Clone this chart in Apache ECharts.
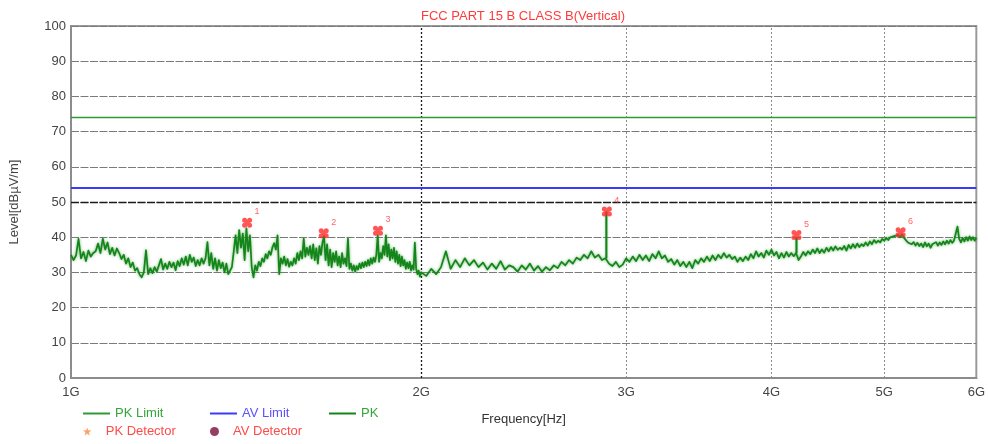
<!DOCTYPE html>
<html>
<head>
<meta charset="utf-8">
<title>FCC PART 15 B CLASS B(Vertical)</title>
<script src="https://cdn.jsdelivr.net/npm/echarts@6/dist/echarts.min.js"></script>
<style>
  html, body { margin: 0; padding: 0; background: #fff; }
  #chart { width: 988px; height: 444px; }
</style>
</head>
<body>
<div id="chart"></div>
<script>
// ---- data (frequency in MHz, level in dBuV/m) ----
const freqTicks = [1000, 2000, 3000, 4000, 5000, 6000]
const pkLimit = 74
const avLimit = 54

// PK trace, 1000-1995 MHz, 5 MHz sweep step
const sweepLowStart = 1000
const sweepLowStep = 5
const pkLevelLow = [
  35.0, 33.5, 34.8, 39.5, 34.0, 35.8, 33.2, 36.2, 34.5, 35.5,
  36.0, 38.2, 35.5, 39.6, 36.5, 38.5, 35.2, 37.0, 34.8, 36.8,
  35.5, 33.8, 35.0, 32.5, 34.0, 31.5, 32.8, 30.5, 31.2, 29.5,
  28.6, 30.0, 36.3, 29.5, 31.2, 29.8, 31.5, 30.2, 32.0, 33.8,
  30.8, 32.5, 31.0, 33.0, 31.5, 32.8, 30.6, 33.2, 31.8, 34.0,
  32.2, 34.5, 32.0, 35.0, 33.0, 34.2, 31.8, 33.5, 32.0, 34.0,
  32.5, 34.0, 38.6, 32.0, 35.5, 31.0, 34.0, 30.5, 33.5, 31.2,
  32.8, 30.0, 32.5, 29.5, 29.0, 31.5, 36.0, 40.5, 35.5, 42.0,
  37.0, 41.0, 33.5, 42.5, 36.0, 40.5, 31.5, 28.6, 32.0, 30.5,
  33.0, 31.8, 34.0, 33.0, 35.2, 34.0, 36.0, 35.0, 37.2, 38.3,
  36.5, 40.5, 29.5, 34.0, 32.5, 34.5, 32.0, 33.8, 31.6, 33.0,
  32.0, 34.0, 32.5, 35.5, 33.5, 36.0, 34.0, 39.6, 34.5, 37.0,
  35.0, 37.5, 34.0, 38.0, 33.5, 36.8, 32.5, 37.5, 35.0, 38.5,
  40.3, 33.5, 38.0, 32.0, 36.5, 31.5, 35.5, 33.0, 36.0, 32.0,
  34.5, 31.5, 35.5, 32.5, 34.0, 31.8, 39.6, 31.0, 32.5, 30.5,
  32.0, 30.2, 31.8, 30.8, 32.5, 31.2, 32.8, 31.5, 33.0, 31.8,
  33.5, 32.0, 34.0, 32.5, 34.2, 33.0, 35.0, 40.6, 33.0, 35.5,
  34.0, 37.5, 35.0, 40.5, 34.5, 38.0, 33.5, 36.5, 34.0, 37.0,
  33.0, 36.0, 32.5, 35.0, 31.8, 34.5, 32.0, 33.5, 31.0, 32.8,
  31.2, 33.0, 30.5, 32.0, 30.8, 38.5, 31.0, 29.5, 30.5, 28.8
]

// PK trace, 2000-6000 MHz, 20 MHz sweep step
const sweepHighStart = 2000
const sweepHighStep = 20
const pkLevelHigh = [
  30.0, 29.0, 31.0, 29.5, 31.5, 36.0, 31.0, 33.5, 31.5, 34.0,
  32.0, 33.5, 31.5, 32.8, 30.8, 32.5, 31.0, 33.2, 30.8, 32.0,
  31.5, 30.2, 32.0, 30.8, 32.5, 30.5, 31.8, 30.2, 31.5, 30.6,
  32.0, 31.2, 33.0, 32.0, 33.5, 32.5, 34.2, 33.5, 35.0, 34.0,
  36.0, 34.2, 35.0, 33.5, 34.0, 32.5, 31.8, 33.0, 31.5, 32.2,
  34.0, 33.0, 34.5, 33.2, 35.0, 33.5, 34.8, 33.2, 35.2, 34.0,
  36.0, 34.0, 34.8, 33.0, 33.8, 32.2, 33.5, 31.8, 33.0, 31.5,
  33.0, 31.2, 33.5, 32.5, 34.0, 33.0, 34.5, 33.2, 34.8, 33.5,
  35.0, 34.0, 35.5, 34.2, 35.0, 33.8, 34.5, 33.0, 34.2, 33.2,
  34.5, 33.5, 35.2, 34.0, 36.0, 34.5, 35.5, 34.2, 36.2, 35.0,
  36.5, 34.8, 35.8, 34.0, 35.5, 34.2, 35.8, 34.5, 35.5, 34.6,
  35.5, 33.5, 34.5, 35.8, 34.8, 36.0, 35.2, 36.5, 35.5, 36.8,
  35.5, 36.5, 35.6, 37.0, 36.0, 37.2, 36.2, 37.4, 36.4, 37.0,
  36.5, 37.5, 36.2, 37.8, 36.8, 38.0, 37.0, 38.2, 37.2, 38.0,
  37.5, 38.5, 37.6, 38.8, 38.0, 39.2, 38.4, 39.0, 38.5, 39.5,
  39.0, 39.8, 39.2, 40.0, 39.5, 40.3, 39.8, 40.6, 40.0, 40.8,
  39.8, 39.5, 38.5, 39.0, 38.0, 38.6, 37.6, 38.4, 37.5, 38.2,
  37.2, 38.5, 37.4, 38.2, 37.0, 38.0, 37.5, 38.6, 37.6, 38.5,
  37.8, 38.8, 38.0, 39.0, 38.2, 39.2, 38.4, 39.0, 38.5, 43.0,
  39.5, 38.5, 39.8, 38.8, 40.0, 39.0, 40.2, 39.2, 40.0, 39.0,
  39.8
]

// narrow spurs drawn as vertical strokes (base -> peak)
const spurFreq = [2885, 4203]
const spurBase = [34.0, 35.5]
const spurPeak = [47.3, 40.0]

// marked peaks
const markFreq = [1417, 1649, 1836, 2888, 4203, 5165]
const markLevel = [44.1, 41.1, 41.8, 47.3, 40.6, 41.4]
const markName = ['1', '2', '3', '4', '5', '6']

// ---- build ----
const pkData = pkLevelLow.map((v, i) => [sweepLowStart + i * sweepLowStep, v])
  .concat(pkLevelHigh.map((v, i) => [sweepHighStart + i * sweepHighStep, v]))

const fMin = freqTicks[0]
const fMax = freqTicks[freqTicks.length - 1]

const traceColor = '#14851a'
const cloverPath = 'path://M3,0A3,3 0 1 1 3,6A3,3 0 1 1 3,0Z M9,0A3,3 0 1 1 9,6A3,3 0 1 1 9,0Z M3,6A3,3 0 1 1 3,12A3,3 0 1 1 3,6Z M9,6A3,3 0 1 1 9,12A3,3 0 1 1 9,6Z M3,3H9V9H3Z'
const starPath = 'path://M5,0L6.2,3.4L10,3.6L7,5.9L8.1,9.5L5,7.4L1.9,9.5L3,5.9L0,3.6L3.8,3.4Z'

const chart = echarts.init(document.getElementById('chart'))

const legendBase = { orient: 'horizontal', padding: 0, itemWidth: 27, selectedMode: true }

chart.setOption({
  animation: false,
  backgroundColor: '#fff',
  title: {
    text: 'FCC PART 15 B CLASS B(Vertical)',
    left: 523, top: 10, padding: 0, textAlign: 'center',
    textStyle: { color: '#ff3b3b', fontSize: 13, fontWeight: 'normal', fontFamily: 'Liberation Sans' }
  },
  grid: {
    left: 70, right: 10, top: 26, bottom: 66,
    show: true, borderColor: '#9a9a9a', borderWidth: 2, backgroundColor: '#fff'
  },
  legend: [
    Object.assign({}, legendBase, { data: ['PK Limit'], left: 83, top: 407, icon: 'rect', itemHeight: 2,
      textStyle: { color: '#33a53a', fontSize: 13, fontFamily: 'Liberation Sans' } }),
    Object.assign({}, legendBase, { data: ['AV Limit'], left: 210, top: 407, icon: 'rect', itemHeight: 2,
      textStyle: { color: '#5a50ff', fontSize: 13, fontFamily: 'Liberation Sans' } }),
    Object.assign({}, legendBase, { data: ['PK'], left: 329, top: 407, icon: 'rect', itemHeight: 2,
      textStyle: { color: '#33a53a', fontSize: 13, fontFamily: 'Liberation Sans' } }),
    Object.assign({}, legendBase, { data: ['PK Detector'], left: 83, top: 425, itemHeight: 8,
      textStyle: { color: '#ff4a4a', fontSize: 13, fontFamily: 'Liberation Sans' } }),
    Object.assign({}, legendBase, { data: ['AV Detector'], left: 210, top: 425, itemHeight: 9,
      textStyle: { color: '#ff4a4a', fontSize: 13, fontFamily: 'Liberation Sans' } })
  ],
  xAxis: {
    type: 'log', logBase: 10, min: fMin, max: fMax,
    name: 'Frequency[Hz]', nameLocation: 'middle', nameGap: 35,
    nameTextStyle: { color: '#333', fontSize: 13, fontFamily: 'Liberation Sans' },
    axisLine: { show: true, lineStyle: { color: '#8c8c8c', width: 2 } },
    axisTick: { show: false, customValues: freqTicks },
    axisLabel: {
      customValues: freqTicks, showMinLabel: true, showMaxLabel: true,
      color: '#444', fontSize: 13, fontFamily: 'Liberation Sans', margin: 8,
      formatter: v => Math.round(v / 1000) + 'G'
    },
    splitLine: { show: false },
    minorTick: { show: false }, minorSplitLine: { show: false }
  },
  yAxis: {
    type: 'value', min: 0, max: 100, interval: 10,
    name: 'Level[dBµV/m]', nameLocation: 'middle', nameGap: 50,
    nameTextStyle: { color: '#444', fontSize: 13, fontFamily: 'Liberation Sans' },
    axisLine: { show: true, lineStyle: { color: '#8c8c8c', width: 2 } },
    axisTick: { show: false },
    axisLabel: { color: '#444', fontSize: 13, fontFamily: 'Liberation Sans', margin: 5 },
    splitLine: { show: true, lineStyle: { color: '#7a7a7a', width: 1, type: [8, 1.5] } }
  },
  series: [
    {
      name: 'PK Limit', type: 'line', z: 3, symbol: 'none', silent: true,
      itemStyle: { color: '#2f9a35' },
      lineStyle: { color: '#2f9a35', width: 1.5 },
      data: [[fMin, pkLimit], [fMax, pkLimit]],
      markLine: {
        silent: true, symbol: ['none', 'none'], label: { show: false }, z: 1,
        data: freqTicks.slice(1, -1).map(f => ({
          xAxis: f,
          lineStyle: { color: f === 2000 ? '#1a1a1a' : '#8a8a8a', width: f === 2000 ? 1.3 : 1, type: [2, 2] }
        })).concat([{ yAxis: 50, lineStyle: { color: '#1a1a1a', width: 1.3, type: [8, 1.5] } }])
      }
    },
    {
      name: 'AV Limit', type: 'line', z: 3, symbol: 'none', silent: true,
      itemStyle: { color: '#3a3aff' },
      lineStyle: { color: '#3a3aff', width: 2 },
      data: [[fMin, avLimit], [fMax, avLimit]]
    },
    {
      name: 'PK', type: 'line', z: 4, symbol: 'none', silent: true,
      itemStyle: { color: traceColor },
      lineStyle: {
        color: traceColor, width: 1.7, join: 'round',
        shadowColor: 'rgba(40, 150, 40, 0.7)', shadowBlur: 3
      },
      data: pkData
    },
    ...spurFreq.map((f, i) => ({
      name: 'PK', type: 'line', z: 4, symbol: 'none', silent: true,
      itemStyle: { color: traceColor },
      lineStyle: { color: traceColor, width: 2, shadowColor: 'rgba(40, 150, 40, 0.6)', shadowBlur: 2 },
      data: [[f, spurBase[i]], [f, spurPeak[i]]]
    })),
    {
      name: 'PK Detector', type: 'scatter', symbol: starPath, symbolSize: 8,
      itemStyle: { color: '#ff8a4a' }, data: []
    },
    {
      name: 'AV Detector', type: 'scatter', symbol: 'circle', symbolSize: 9,
      itemStyle: { color: '#7a0c3c' }, data: []
    },
    {
      name: 'Marker', type: 'scatter', z: 6, symbol: cloverPath, symbolSize: 10,
      itemStyle: { color: '#ff2a2a' },
      label: {
        show: true, position: 'inside', offset: [10, -11],
        formatter: p => markName[p.dataIndex],
        color: '#ff4040', fontSize: 9, fontFamily: 'Liberation Sans'
      },
      data: markFreq.map((f, i) => [f, markLevel[i]])
    }
  ]
})
</script>
</body>
</html>
